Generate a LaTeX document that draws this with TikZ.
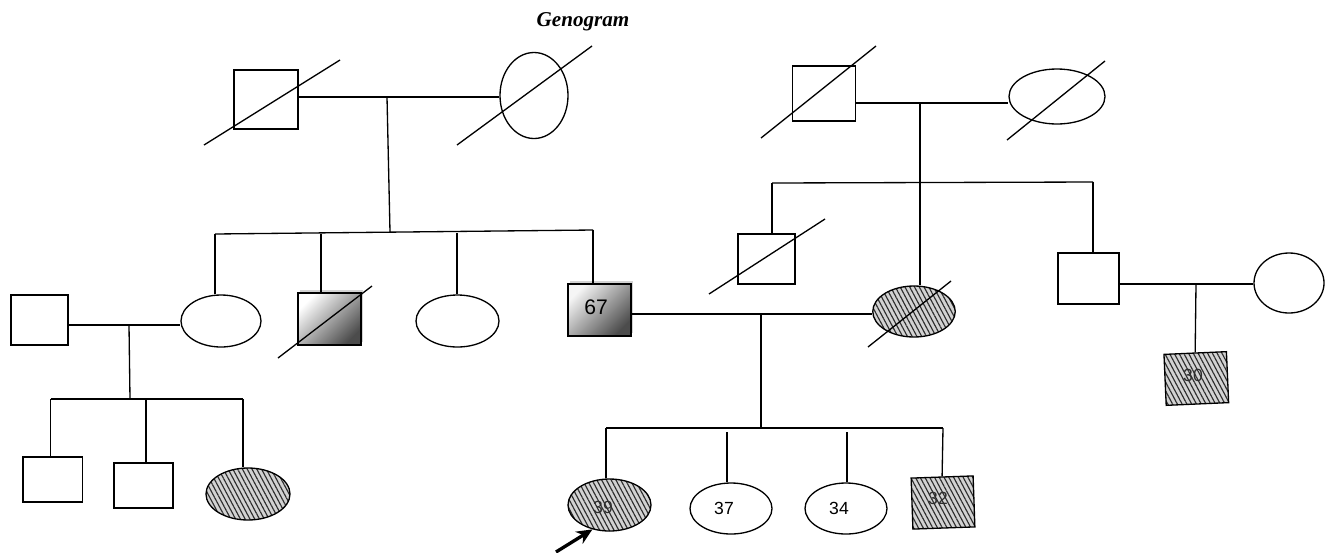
\documentclass[tikz,border=0pt]{standalone}
\usepackage{fontspec}
\setmainfont{Liberation Serif}
\newfontfamily\agefont{Liberation Sans}
\usetikzlibrary{shapes.geometric,patterns.meta,shadows,arrows.meta}

\tikzset{
  sz/.style 2 args={minimum width=#1*0.02cm, minimum height=#2*0.02cm},
  male/.style={draw, rectangle, inner sep=0pt},
  female/.style={draw, ellipse, inner sep=0pt},
  hatch/.style={preaction={fill=gray!35},
    pattern={Lines[angle=-62,distance=2.4pt,line width=0.65pt]},
    pattern color=gray!35!black},
  grad/.style={top color=#1, bottom color=gray!60!black, shading angle=45,
    drop shadow={shadow xshift=1.2pt, shadow yshift=1.7pt, fill=gray!35, opacity=1}},
  grad/.default=white,
  agetxt/.style={font=\agefont\fontsize{10}{12}\selectfont, inner sep=0pt},
  agedim/.style={agetxt, text=gray!35!black},
  titletxt/.style={font=\bfseries\itshape\fontsize{12}{14}\selectfont},
  index/.style={line width=1.9pt, -{Stealth[length=9pt,width=8pt]}},
}

\begin{document}
\begin{tikzpicture}[x=0.02cm, y=-0.02cm, line width=0.75pt]
\useasboundingbox (0,0) rectangle (1325,552);

\node[titletxt] (title) at (583,22) {Genogram};

% ---- paternal grandparents ----
\node[male, sz={64}{59}] (gf1) at (266,99.5) {};
\node[female, sz={68}{86}] (gm1) at (534,95.5) {};
\draw (204,145) -- (340,60);
\draw (457,145) -- (592,46);
\coordinate (m1) at (387,97);
\draw (gf1.east |- m1) -- (gm1.west |- m1);
\coordinate (s1a) at (215,234);
\coordinate (s1b) at (593,230);
\coordinate (s1m) at (390,232);
\draw (m1) -- (s1m);
\draw (s1a) -- (s1b);

% ---- their children ----
\node[female, sz={80}{52}] (c1) at (221,321) {};
\node[male, sz={63}{52}, grad] (c2) at (329.5,319) {};
\draw (278,358) -- (372,286);
\node[female, sz={83}{52}] (c3) at (457.5,321) {};
\node[male, sz={63}{52}, grad=gray!8] (c4) at (599.5,310) {};
\node[font=\agefont\fontsize{12}{14}\selectfont, inner sep=0pt] (t67) at (596,307) {67};
\coordinate (d2) at (321,234);
\coordinate (d3) at (457,233);
\draw (s1a) -- (s1a |- c1.north);
\draw (d2) -- (d2 |- c2.north);
\draw (d3) -- (d3 |- c3.north);
\draw (s1b) -- (s1b |- c4.north);

% ---- aunt's family ----
\node[male, sz={57}{50}] (u1) at (39.5,320) {};
\coordinate (m3) at (129,325);
\draw (u1.east |- m3) -- (c1.west |- m3);
\coordinate (s3a) at (50.5,399);
\coordinate (s3b) at (243,399);
\coordinate (s3m) at (130,399);
\draw (m3) -- (s3m);
\draw (s3a) -- (s3b);
\node[male, sz={59.5}{45}] (g1) at (52.75,479.5) {};
\node[male, sz={59}{45}] (g2) at (143.5,485.5) {};
\node[female, sz={84}{52}, hatch] (g3) at (248,494) {};
\coordinate (d5) at (146,399);
\draw (s3a) -- (s3a |- g1.north);
\draw (d5) -- (d5 |- g2.north);
\draw (s3b) -- (s3b |- g3.north);

% ---- maternal grandparents ----
\node[male, sz={62.5}{55}] (gf2) at (824,93.5) {};
\node[female, sz={96}{55}] (gm2) at (1057,96.5) {};
\draw (761,138) -- (876,46);
\draw (1007,140) -- (1105,61);
\coordinate (m2) at (920,103);
\draw (gf2.east |- m2) -- (gm2.west |- m2);
\coordinate (s2a) at (772,183);
\coordinate (s2b) at (1093,182);
\draw (s2a) -- (s2b);

% ---- their children ----
\node[male, sz={57}{50}] (un1) at (766.5,259) {};
\draw (709,294) -- (825,219);
\node[female, sz={82.5}{51}, hatch] (mo) at (914,311.5) {};
\draw (868,347) -- (951,281);
\node[male, sz={61}{51}] (un2) at (1088.5,278.5) {};
\draw (s2a) -- (s2a |- un1.north);
\draw (m2) -- (m2 |- mo.north);
\draw (s2b) -- (s2b |- un2.north);

% ---- uncle's family ----
\node[female, sz={70}{60}] (wf) at (1289,283) {};
\coordinate (m4) at (1196,284);
\draw (un2.east |- m4) -- (wf.west |- m4);
\node[male, sz={62.5}{51}, hatch, rotate=2.5] (b30) at (1196.3,378.5) {};
\node[agedim] (t30) at (1193,375) {30};
\draw (m4) -- (b30.north);

% ---- parents and siblings ----
\coordinate (m5) at (761,314);
\draw (c4.east |- m5) -- (mo.west |- m5);
\coordinate (s4a) at (606,428);
\coordinate (s4b) at (943,428);
\coordinate (s4m) at (761,428);
\draw (m5) -- (s4m);
\draw (s4a) -- (s4b);
\node[female, sz={83}{52}, hatch] (p39) at (609.5,505) {};
\node[female, sz={82}{51}] (s37) at (731,508.5) {};
\node[female, sz={82}{51}] (s34) at (846,508.5) {};
\node[male, sz={62}{51}, hatch, rotate=2] (b32) at (943,502.5) {};
\node[agedim] (t39) at (603,507) {39};
\node[agetxt] (t37) at (724,508) {37};
\node[agetxt] (t34) at (839,508) {34};
\node[agedim] (t32) at (938,498) {32};
\coordinate (d37) at (727,432);
\coordinate (d34) at (847,432);
\draw (s4a) -- (s4a |- p39.north);
\draw (d37) -- (d37 |- s37.north);
\draw (d34) -- (d34 |- s34.north);
\draw (s4b) -- (b32.north);

% ---- index person ----
\coordinate (arr) at (556,552);
\draw[index] (arr) -- (p39.-125);
\end{tikzpicture}
\end{document}
